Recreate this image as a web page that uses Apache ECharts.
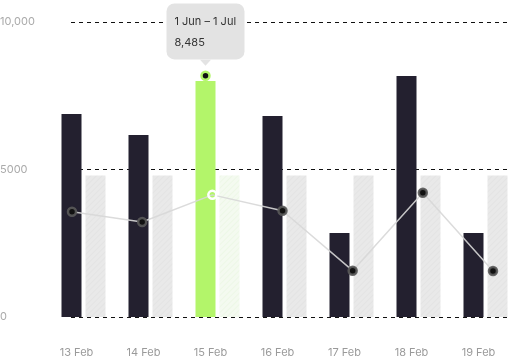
<!DOCTYPE html>
<html>
<head>
<meta charset="utf-8">
<script src="https://cdn.jsdelivr.net/npm/echarts@6/dist/echarts.min.js"></script>
<style>
html,body{margin:0;padding:0;background:#fff;}
#c{width:508px;height:362px;}
</style>
</head>
<body>
<div id="c"></div>
<script>
const categories = ['13 Feb', '14 Feb', '15 Feb', '16 Feb', '17 Feb', '18 Feb', '19 Feb'];
const currentValues = [6880, 6170, 8000, 6810, 2850, 8170, 2850];
const baselineValues = [4800, 4800, 4800, 4800, 4800, 4800, 4800];
const trendValues = [3570, 3220, 4140, 3600, 1570, 4210, 1560];
const highlightIndex = 2;
const markerValue = 8180;
const tooltipRange = '1 Jun \u2013 1 Jul';
const tooltipValue = 8485;
const yTickValues = [0, 5000, 10000];
const yTickLabels = ['0', '5000', '10,000'];

const DARK = '#23202f';
const GREEN = '#b3f56a';
const FONT = 'Inter';

const chart = echarts.init(document.getElementById('c'), null, {renderer: 'canvas'});

const gridTop = 22, gridBottom = 45;
const yBase = {type: 'value', min: 0, max: 10000, interval: 5000};

const option = {
  animation: false,
  grid: [
    {left: 50, width: 469, top: gridTop, bottom: gridBottom, outerBoundsMode: 'none', containLabel: false},
    {left: 71, right: 0, top: gridTop, bottom: gridBottom, outerBoundsMode: 'none', containLabel: false},
    {left: 72, right: 15, top: gridTop, bottom: gridBottom, outerBoundsMode: 'none', containLabel: false}
  ],
  xAxis: [
    {
      type: 'category', gridIndex: 0, data: categories,
      axisLine: {show: false}, axisTick: {show: false},
      axisLabel: {color: '#9a9a9a', fontSize: 11, fontFamily: FONT, margin: 30, padding: [0, 14, 0, 0]}
    },
    {type: 'category', gridIndex: 1, data: categories, show: false},
    {type: 'category', gridIndex: 2, data: categories, show: false, boundaryGap: false}
  ],
  yAxis: [
    Object.assign({gridIndex: 0, show: false}, yBase),
    Object.assign({gridIndex: 1}, yBase, {
      axisLine: {show: false}, axisTick: {show: false},
      splitLine: {show: true, lineStyle: {color: '#111', type: [4, 4], width: 1}},
      axisLabel: {
        color: '#aaaaaa', fontSize: 11, fontFamily: FONT, align: 'left', margin: 71,
        formatter: v => yTickLabels[yTickValues.indexOf(v)]
      }
    }),
    Object.assign({gridIndex: 2, show: false}, yBase)
  ],
  series: [
    {
      type: 'bar', xAxisIndex: 0, yAxisIndex: 0, barWidth: 20, barGap: '20%',
      itemStyle: {color: DARK},
      data: currentValues.map((v, i) => i === highlightIndex ? {value: v, itemStyle: {color: GREEN}} : v),
      z: 2,
      markPoint: {
        z: 10,
        data: [
          {
            coord: [categories[highlightIndex], markerValue],
            symbol: 'triangle', symbolRotate: 180, symbolSize: [11, 6], symbolOffset: [0, -13],
            itemStyle: {color: '#e3e3e3'}, label: {show: false}
          },
          {
            coord: [categories[highlightIndex], markerValue],
            symbol: 'circle', symbolSize: 8,
            itemStyle: {color: '#111', borderColor: GREEN, borderWidth: 2.5},
            label: {
              show: true, position: 'top', distance: 11,
              backgroundColor: '#e3e3e3', borderRadius: 8, padding: [8, 8, 6, 8],
              formatter: '{a|' + tooltipRange + '}\n{b|' + tooltipValue.toLocaleString('en-US') + '}',
              rich: {
                a: {width: 62, align: 'left', fontSize: 11, lineHeight: 21, color: '#333', fontFamily: FONT},
                b: {width: 62, align: 'left', fontSize: 11, lineHeight: 21, color: '#333', fontFamily: FONT}
              }
            }
          }
        ]
      }
    },
    {
      type: 'bar', xAxisIndex: 0, yAxisIndex: 0, barWidth: 20,
      itemStyle: {
        color: '#e9e9e9',
        decal: {symbol: 'rect', symbolSize: 1, dashArrayX: [1, 0], dashArrayY: [1, 3], rotation: -Math.PI / 4, color: 'rgba(0,0,0,0.025)'}
      },
      data: baselineValues.map((v, i) => i === highlightIndex ? {value: v, itemStyle: {color: '#f4faf0', decal: {symbol: 'rect', symbolSize: 1, dashArrayX: [1, 0], dashArrayY: [1, 3], rotation: -Math.PI / 4, color: 'rgba(150,220,120,0.08)'}}} : v),
      z: 2
    },
    {
      type: 'line', xAxisIndex: 2, yAxisIndex: 2, z: 5,
      lineStyle: {color: 'rgba(215,215,215,0.9)', width: 1.5},
      symbol: 'circle', symbolSize: 8, showAllSymbol: true,
      itemStyle: {color: '#111', borderColor: 'rgba(90,90,90,0.9)', borderWidth: 2.5},
      data: trendValues.map((v, i) => i === highlightIndex ? {value: v, itemStyle: {color: 'rgba(255,255,255,0)', borderColor: '#fff', borderWidth: 2.5}} : v)
    }
  ]
};
chart.setOption(option);
</script>
</body>
</html>
